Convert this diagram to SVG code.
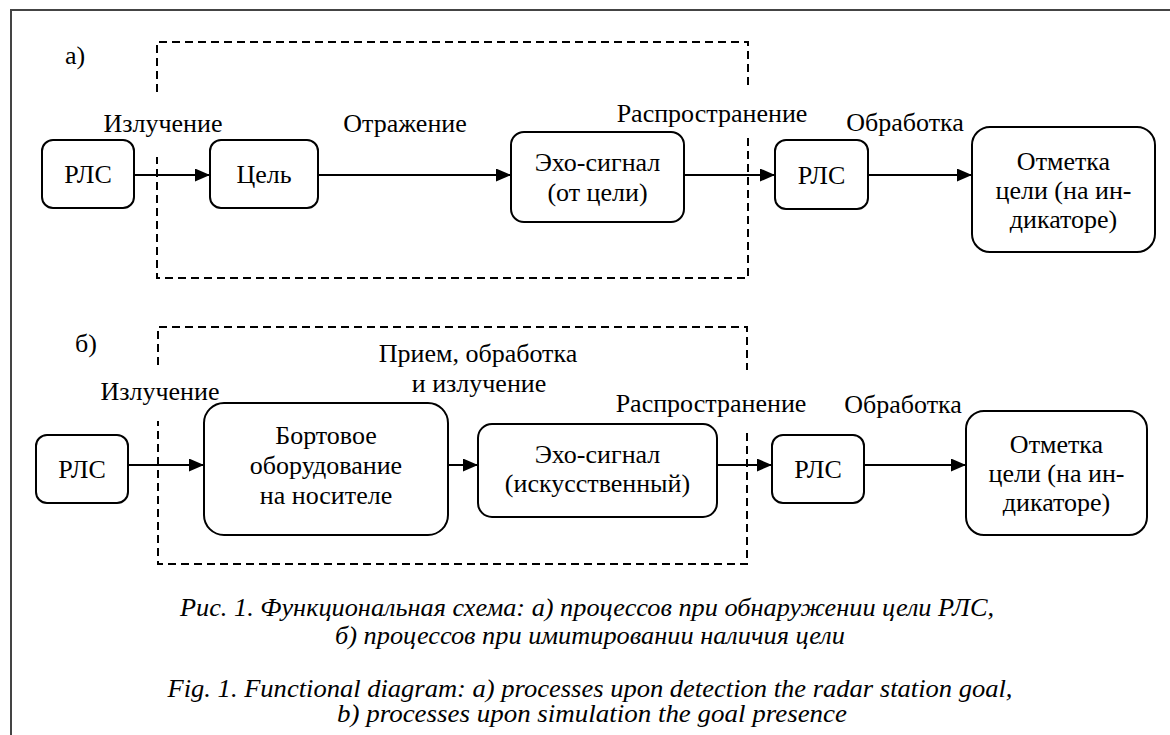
<svg xmlns="http://www.w3.org/2000/svg" width="1170" height="735" viewBox="0 0 1170 735">
<style>
  .box { fill: #fff; stroke: #000; stroke-width: 2; }
  .t { font-family: 'Liberation Serif', 'Times New Roman', serif; font-size: 26px; fill: #000; }
  .m { text-anchor: middle; }
  .dash { fill: none; stroke: #000; stroke-width: 2; stroke-dasharray: 8 5; }
  .edge { fill: none; stroke: #000; stroke-width: 2; marker-end: url(#arr); }
  .cap { font-family: 'Liberation Serif', 'Times New Roman', serif; font-size: 25px; font-style: italic; fill: #000; text-anchor: middle; }
  .frame { fill: none; stroke: #444; stroke-width: 2; }
</style>
<defs>
  <marker id="arr" viewBox="0 0 15 13" refX="15" refY="6.5" markerWidth="15" markerHeight="13" markerUnits="userSpaceOnUse" orient="auto">
    <path d="M0,0 L15,6.5 L0,13 Z" fill="#000"/>
  </marker>
</defs>
<rect width="1170" height="735" fill="#fff"/>
<path class="frame" d="M11,735 V10 H1170"/>

<g id="frame-a">
  <path class="dash" d="M157,92 V42 H748 V85"/>
  <path class="dash" d="M748,138 V278 H157 V157"/>
  <text class="t" x="65" y="64">а)</text>
</g>
<g id="frame-b">
  <path class="dash" d="M158,365 V327 H747 V370"/>
  <path class="dash" d="M747,433 V564 H158 V421"/>
  <text class="t" x="75" y="352">б)</text>
</g>

<g id="connectors">
  <line class="edge" x1="134" y1="175" x2="210" y2="175"/>
  <line class="edge" x1="318" y1="175" x2="511" y2="175"/>
  <line class="edge" x1="684" y1="175" x2="775" y2="175"/>
  <line class="edge" x1="868" y1="175" x2="972" y2="175"/>
  <line class="edge" x1="128" y1="465" x2="204" y2="465"/>
  <line class="edge" x1="448" y1="465" x2="478" y2="465"/>
  <line class="edge" x1="717" y1="465" x2="772" y2="465"/>
  <line class="edge" x1="864" y1="465" x2="966" y2="465"/>
  <text class="t m" x="163" y="132">Излучение</text>
  <text class="t m" x="405" y="132">Отражение</text>
  <text class="t m" x="712" y="122">Распространение</text>
  <text class="t m" x="905" y="131">Обработка</text>
  <text class="t m" x="160" y="400">Излучение</text>
  <text class="t m" x="478" y="362">Прием, обработка</text>
  <text class="t m" x="479" y="392">и излучение</text>
  <text class="t m" x="711" y="412">Распространение</text>
  <text class="t m" x="903" y="413">Обработка</text>
</g>

<g id="a-rls1">
  <rect class="box" x="42" y="140" width="92" height="68" rx="11"/>
  <text class="t m" x="88" y="183">РЛС</text>
</g>
<g id="a-target">
  <rect class="box" x="210" y="140" width="108" height="68" rx="11"/>
  <text class="t m" x="264" y="183">Цель</text>
</g>
<g id="a-echo">
  <rect class="box" x="511" y="132" width="173" height="90" rx="13"/>
  <text class="t m" x="597.5" y="171">Эхо-сигнал</text>
  <text class="t m" x="597.5" y="201">(от цели)</text>
</g>
<g id="a-rls2">
  <rect class="box" x="775" y="140" width="93" height="69" rx="11"/>
  <text class="t m" x="821.5" y="184">РЛС</text>
</g>
<g id="a-mark">
  <rect class="box" x="972" y="127" width="183" height="125" rx="18"/>
  <text class="t m" x="1063.5" y="170">Отметка</text>
  <text class="t m" x="1063.5" y="199">цели (на ин-</text>
  <text class="t m" x="1063.5" y="228">дикаторе)</text>
</g>

<g id="b-rls1">
  <rect class="box" x="36" y="435" width="92" height="68" rx="11"/>
  <text class="t m" x="82" y="478">РЛС</text>
</g>
<g id="b-onboard">
  <rect class="box" x="204" y="403" width="244" height="132" rx="20"/>
  <text class="t m" x="326" y="444">Бортовое</text>
  <text class="t m" x="326" y="474">оборудование</text>
  <text class="t m" x="326" y="504">на носителе</text>
</g>
<g id="b-echo">
  <rect class="box" x="478" y="424" width="239" height="93" rx="14"/>
  <text class="t m" x="597.5" y="463">Эхо-сигнал</text>
  <text class="t m" x="597.5" y="492">(искусственный)</text>
</g>
<g id="b-rls2">
  <rect class="box" x="772" y="435" width="92" height="68" rx="11"/>
  <text class="t m" x="818" y="478">РЛС</text>
</g>
<g id="b-mark">
  <rect class="box" x="966" y="411" width="181" height="124" rx="18"/>
  <text class="t m" x="1056.5" y="453">Отметка</text>
  <text class="t m" x="1056.5" y="482">цели (на ин-</text>
  <text class="t m" x="1056.5" y="511">дикаторе)</text>
</g>

<g id="caption">
  <text class="cap" x="587" y="616" textLength="814" lengthAdjust="spacingAndGlyphs">Рис. 1. Функциональная схема: а) процессов при обнаружении цели РЛС,</text>
  <text class="cap" x="590" y="644" textLength="510" lengthAdjust="spacingAndGlyphs">б) процессов при имитировании наличия цели</text>
  <text class="cap" x="590" y="697" textLength="845" lengthAdjust="spacingAndGlyphs">Fig. 1. Functional diagram: a) processes upon detection the radar station goal,</text>
  <text class="cap" x="592" y="722" textLength="510" lengthAdjust="spacingAndGlyphs">b) processes upon simulation the goal presence</text>
</g>
</svg>
